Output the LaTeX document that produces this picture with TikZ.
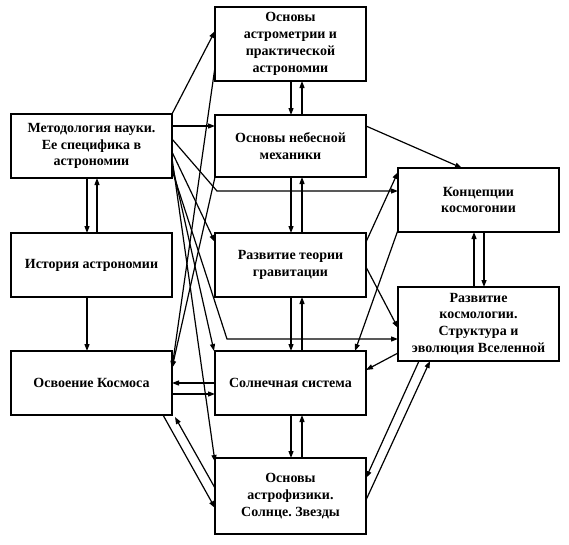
\documentclass[tikz,border=0pt]{standalone}
\usepackage{fontspec}
\setmainfont{Liberation Serif}
\usetikzlibrary{calc,arrows.meta}
\begin{document}
\frenchspacing
\begin{tikzpicture}[x=1pt,y=1pt,
  box/.style={draw,line width=1.9pt,inner sep=0pt,outer sep=0pt,align=center,
    font=\bfseries\fontsize{14}{16.8}\selectfont},
  lw/.style={minimum width=161pt},
  rw/.style={minimum width=151pt},
  con/.style={line width=1.2pt,-{Triangle[length=7pt,width=5pt]}},
  ln/.style={line width=1.2pt}]
\path[fill=white] (0,0) rectangle (569,-544);
\useasboundingbox (0,0) rectangle (569,-544);
% left column
\node[box,lw,minimum height=64pt] (meth) at (91.5,-146) {Методология науки.\\Ее специфика в\\астрономии};
\node[box,lw,minimum height=64pt] (hist) at (91.5,-265) {История астрономии};
\node[box,lw,minimum height=64pt] (osv) at (91.5,-383) {Освоение Космоса};
% middle column
\node[box,rw,minimum height=74pt] (A) at (290.5,-44) {Основы\\астрометрии и\\практической\\астрономии};
\node[box,rw,minimum height=62pt] (B) at (290.5,-146) {Основы небесной\\механики};
\node[box,rw,minimum height=64pt] (C) at (290.5,-265) {Развитие теории\\гравитации};
\node[box,rw,minimum height=64pt] (D) at (290.5,-383) {Солнечная система};
\node[box,rw,minimum height=76pt] (E) at (290.5,-496) {Основы\\астрофизики.\\Солнце. Звезды};
% right column
\node[box,lw,minimum height=64pt] (R1) at (478.5,-200) {Концепции\\космогонии};
\node[box,lw,minimum height=74pt] (R2) at (478.5,-324) {Развитие\\космологии.\\Структура и\\эволюция Вселенной};
% vertical pairs
\foreach \u/\v in {A/B,B/C,C/D,D/E}{
  \draw[con] ($(\u.south)+(0.5,0)$) -- ($(\v.north)+(0.5,0)$);
  \draw[con] ($(\v.north)+(11.5,0)$) -- ($(\u.south)+(11.5,0)$);
}
\draw[con] ($(meth.south)+(-4.5,0)$) -- ($(hist.north)+(-4.5,0)$);
\draw[con] ($(hist.north)+(5.5,0)$) -- ($(meth.south)+(5.5,0)$);
\draw[con] ($(hist.south)+(-4.5,0)$) -- ($(osv.north)+(-4.5,0)$);
\draw[con] ($(R2.north)+(-4.5,0)$) -- ($(R1.south)+(-4.5,0)$);
\draw[con] ($(R1.south)+(5.5,0)$) -- ($(R2.north)+(5.5,0)$);
% from methodology
\draw[con] (meth.north east) -- ($(A.north west)+(0,-24)$);
\draw[con] ($(meth.north east)+(0,-12)$) -- ($(B.north west)+(0,-11)$);
\draw[con] ($(meth.north east)+(0,-25)$) -- ($(B.south west)+(2,-14)$) -- ($(R1.north west)+(0,-23)$);
\draw[con] ($(meth.north east)+(0,-38)$) -- ($(C.north west)+(0,-9)$);
\draw[con] ($(meth.north east)+(0,-44)$) -- ($(E.north west)+(0,-4)$);
\draw[con] ($(meth.north east)+(0,-50)$) -- ($(D.north west)+(-1,0)$);
\draw[con] ($(meth.north east)+(0,-56)$) -- ($(D.north west)+(12,12)$) -- ($(R2.north west)+(0,-52)$);
% to space exploration
\draw[con] ($(A.north west)+(0,-60)$) -- ($(osv.north east)+(0,-17)$);
\draw[con] (B.south west) -- ($(osv.north east)+(0,-17)$);
\draw[con] (D.west) -- (osv.east);
\draw[con] ($(osv.east)+(0,-11)$) -- ($(D.west)+(0,-11)$);
\draw[con] ($(osv.south east)+(-9,0)$) -- ($(E.north west)+(0,-50)$);
\draw[con] ($(E.north west)+(0,-30)$) -- ($(osv.south east)+(3,-2)$);
% right side
\draw[con] ($(B.north east)+(0,-11)$) -- ($(R1.north west)+(64,0)$);
\draw[con] ($(C.north east)+(0,-9)$) -- ($(R1.north west)+(0,-4)$);
\draw[con] ($(R1.south west)+(0,2)$) -- ($(D.north east)+(-11,0)$);
\draw[con] ($(C.north east)+(0,-34)$) -- ($(R2.north west)+(0,-41)$);
\draw[con] ($(R2.south west)+(0,8)$) -- ($(D.north east)+(0,-19)$);
\draw[con] ($(R2.south west)+(21,0)$) -- ($(E.north east)+(0,-20)$);
\draw[con] ($(E.north east)+(0,-42)$) -- ($(R2.south west)+(32,0)$);
\end{tikzpicture}
\end{document}
